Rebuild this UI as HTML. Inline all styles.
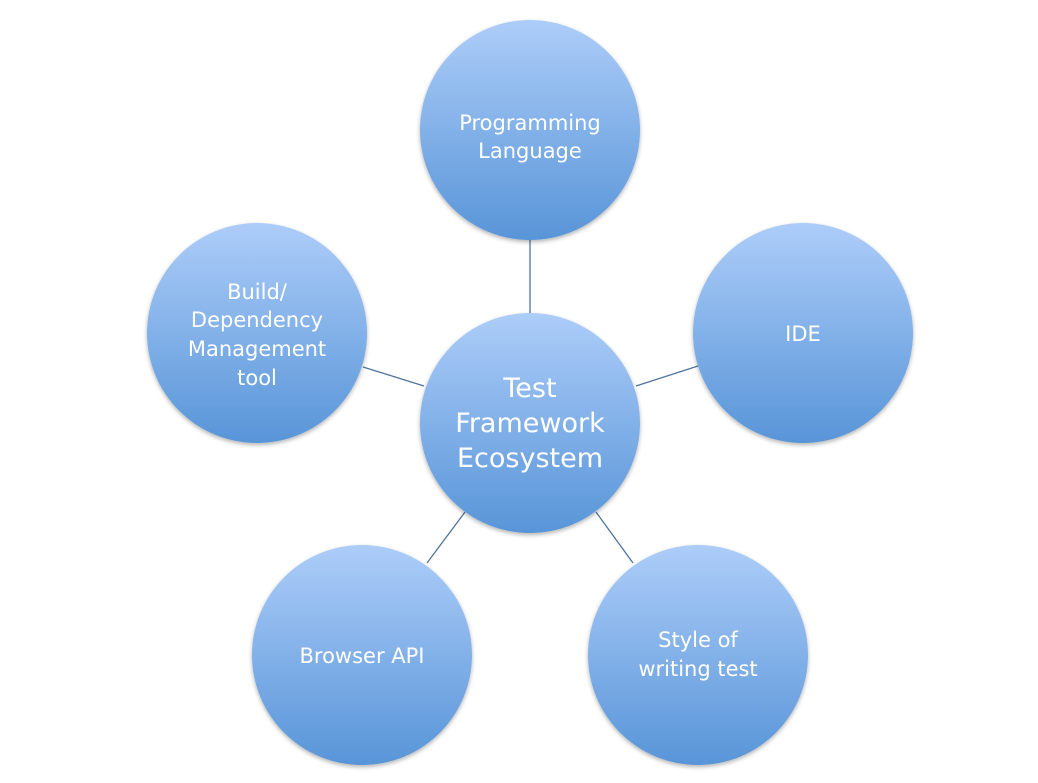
<!DOCTYPE html>
<html><head><meta charset="utf-8"><style>
html,body{margin:0;padding:0;background:#fff;}
svg{display:block;}
text{font-family:"DejaVu Sans","Liberation Sans",sans-serif;fill:#fff;text-anchor:middle;}
</style></head><body>
<svg width="1038" height="783" viewBox="0 0 1038 783" xmlns="http://www.w3.org/2000/svg">
<defs>
<linearGradient id="g" x1="0" y1="0" x2="0" y2="1">
<stop offset="0" stop-color="#adcdf9"/>
<stop offset="1" stop-color="#5895d8"/>
</linearGradient>
<filter id="s" x="-20%" y="-20%" width="140%" height="140%">
<feDropShadow dx="0" dy="2" stdDeviation="2" flood-color="#000" flood-opacity="0.3"/>
</filter>
</defs>
<g stroke="#4d739e" stroke-width="1.3">
<line x1="530" y1="240" x2="530" y2="314"/>
<line x1="363" y1="367" x2="424" y2="386"/>
<line x1="636" y1="386" x2="698" y2="366"/>
<line x1="427" y1="563" x2="465" y2="512"/>
<line x1="596" y1="512" x2="633" y2="563"/>
</g>
<g filter="url(#s)" fill="url(#g)">
<circle cx="530" cy="130" r="110"/>
<circle cx="803" cy="333" r="110"/>
<circle cx="257" cy="333" r="110"/>
<circle cx="362" cy="655" r="110"/>
<circle cx="698" cy="655" r="110"/>
<circle cx="530" cy="423" r="110"/>
</g>
<text font-size="21"><tspan x="530" y="130">Programming</tspan><tspan x="530" y="158">Language</tspan></text>
<text font-size="21" x="803" y="341">IDE</text>
<text font-size="21"><tspan x="257" y="299">Build/</tspan><tspan x="257" y="327">Dependency</tspan><tspan x="257" y="356">Management</tspan><tspan x="257" y="385">tool</tspan></text>
<text font-size="21" x="362" y="663">Browser API</text>
<text font-size="21"><tspan x="698" y="647">Style of</tspan><tspan x="698" y="676">writing test</tspan></text>
<text font-size="27"><tspan x="530" y="397">Test</tspan><tspan x="530" y="432">Framework</tspan><tspan x="530" y="467">Ecosystem</tspan></text>
</svg>
</body></html>
